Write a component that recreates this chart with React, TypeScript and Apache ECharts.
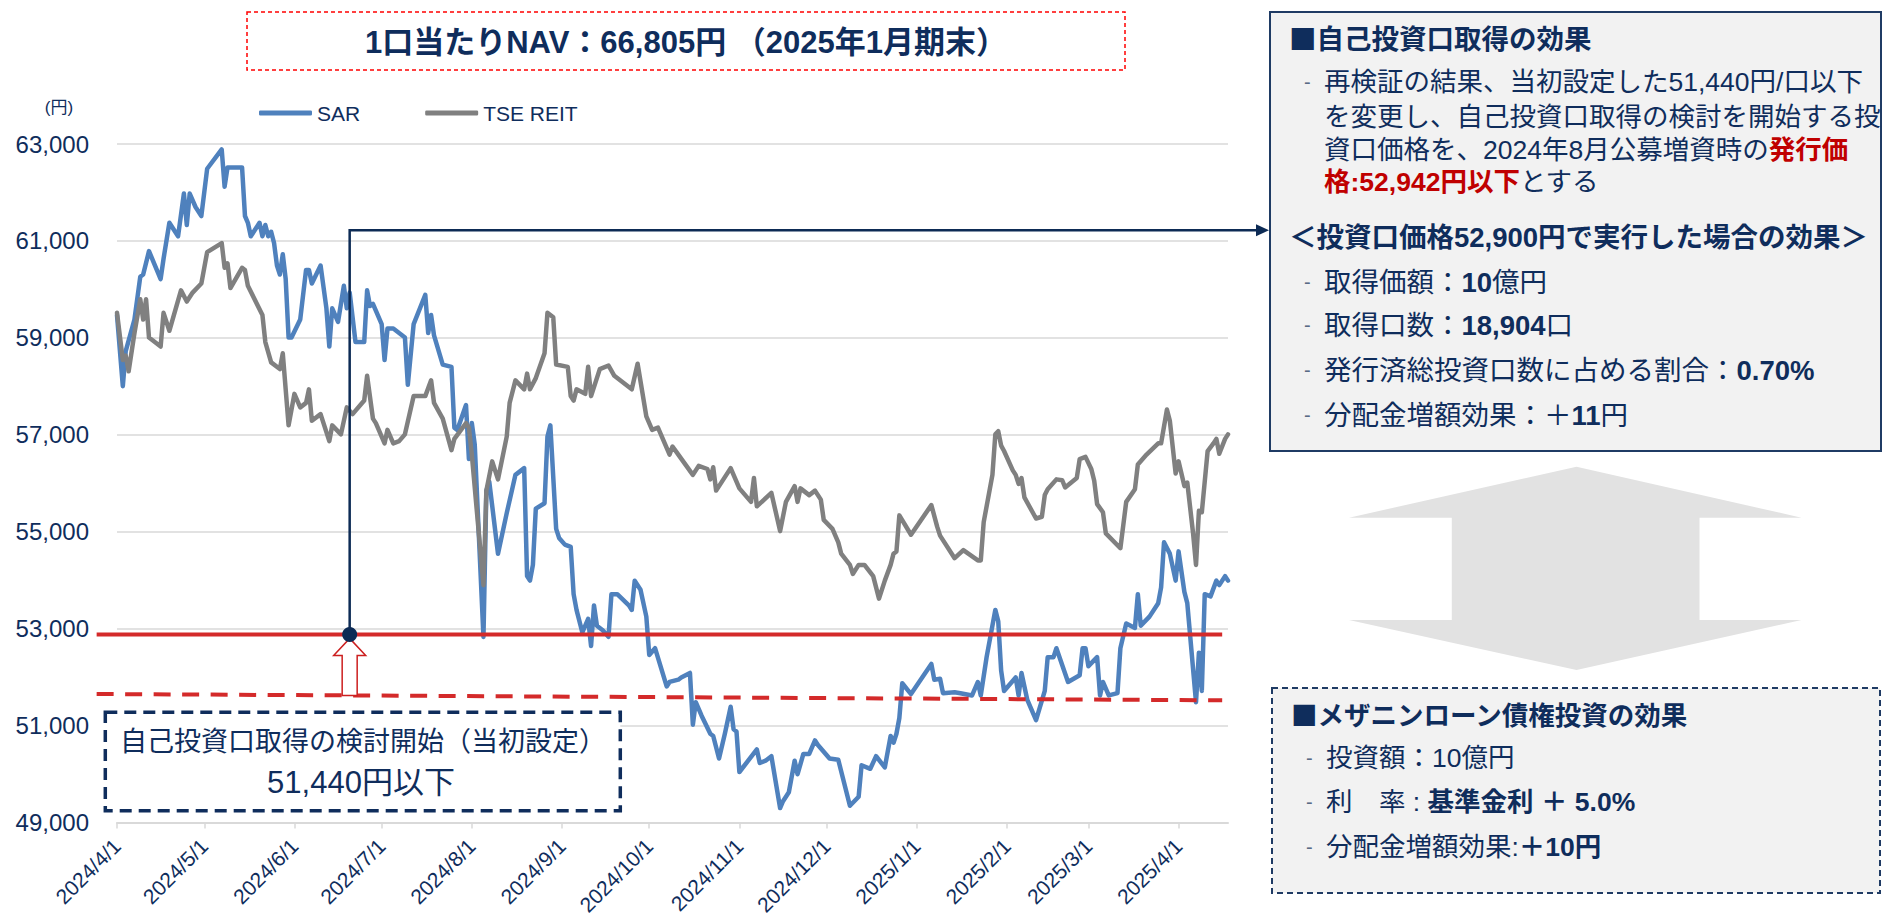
import React, { useEffect, useRef } from 'react';
import * as echarts from 'echarts';

const FONT = "'Liberation Sans', Arial, 'Noto Sans CJK JP', sans-serif";
const CJK_FONT = "'Noto Sans CJK JP', 'Liberation Sans', sans-serif";
const NAVY = '#0f2d5c';
const BLUE = '#4f81bd';
const GRAY = '#808080';
const RED = '#d42a2a';
const RED_TEXT = '#c00000';

// SAR unit price (円)
const sarDates = [
  '2024-04-01','2024-04-03','2024-04-04','2024-04-07','2024-04-09','2024-04-10','2024-04-12','2024-04-16','2024-04-17','2024-04-19',
  '2024-04-22','2024-04-24','2024-04-25','2024-04-26','2024-04-28','2024-04-30','2024-05-02','2024-05-07','2024-05-08','2024-05-09',
  '2024-05-14','2024-05-15','2024-05-16','2024-05-17','2024-05-20','2024-05-21','2024-05-22','2024-05-23','2024-05-24','2024-05-25',
  '2024-05-26','2024-05-27','2024-05-28','2024-05-29','2024-05-30','2024-05-31','2024-06-03','2024-06-05','2024-06-06','2024-06-07',
  '2024-06-10','2024-06-12','2024-06-13','2024-06-14','2024-06-16','2024-06-18','2024-06-19','2024-06-20','2024-06-22','2024-06-25',
  '2024-06-26','2024-06-27','2024-06-28','2024-06-29','2024-07-01','2024-07-02','2024-07-03','2024-07-05','2024-07-07','2024-07-09',
  '2024-07-10','2024-07-12','2024-07-16','2024-07-17','2024-07-18','2024-07-19','2024-07-22','2024-07-25','2024-07-26','2024-07-27',
  '2024-07-30','2024-07-31','2024-08-01','2024-08-02','2024-08-05','2024-08-06','2024-08-07','2024-08-10','2024-08-13','2024-08-16',
  '2024-08-19','2024-08-20','2024-08-21','2024-08-22','2024-08-23','2024-08-26','2024-08-27','2024-08-28','2024-08-30','2024-08-31',
  '2024-09-02','2024-09-04','2024-09-05','2024-09-06','2024-09-08','2024-09-10','2024-09-11','2024-09-12','2024-09-13','2024-09-15',
  '2024-09-17','2024-09-18','2024-09-20','2024-09-24','2024-09-25','2024-09-26','2024-09-28','2024-09-30','2024-10-01','2024-10-03',
  '2024-10-07','2024-10-08','2024-10-11','2024-10-12','2024-10-15','2024-10-16','2024-10-17','2024-10-19','2024-10-22','2024-10-23',
  '2024-10-25','2024-10-27','2024-10-29','2024-10-30','2024-10-31','2024-11-01','2024-11-07','2024-11-08','2024-11-10','2024-11-12',
  '2024-11-15','2024-11-16','2024-11-18','2024-11-20','2024-11-21','2024-11-23','2024-11-25','2024-11-27','2024-11-28','2024-12-02',
  '2024-12-05','2024-12-09','2024-12-12','2024-12-13','2024-12-16','2024-12-18','2024-12-21','2024-12-23','2024-12-24','2024-12-25',
  '2024-12-26','2024-12-27','2024-12-30','2025-01-06','2025-01-07','2025-01-09','2025-01-10','2025-01-14','2025-01-16','2025-01-20',
  '2025-01-22','2025-01-23','2025-01-25','2025-01-28','2025-01-29','2025-01-30','2025-01-31','2025-02-04','2025-02-05','2025-02-06',
  '2025-02-08','2025-02-11','2025-02-14','2025-02-15','2025-02-17','2025-02-18','2025-02-22','2025-02-26','2025-02-27','2025-02-28',
  '2025-03-01','2025-03-04','2025-03-05','2025-03-06','2025-03-08','2025-03-11','2025-03-12','2025-03-14','2025-03-17','2025-03-18',
  '2025-03-19','2025-03-22','2025-03-25','2025-03-26','2025-03-27','2025-03-29','2025-03-31','2025-04-01','2025-04-03','2025-04-04',
  '2025-04-07','2025-04-08','2025-04-09','2025-04-10','2025-04-12','2025-04-14','2025-04-15','2025-04-17','2025-04-18',
];
const sarValues = [
  59470, 58002, 58727, 59377, 60260, 60306, 60789, 60213, 60630, 61374,
  61096, 61978, 61328, 61978, 61700, 61514, 62489, 62888, 62117, 62517,
  62517, 61514, 61374, 61095, 61374, 61095, 61328, 61095, 61189, 60956,
  60492, 60306, 60724, 60213, 59005, 59005, 59377, 60399, 60399, 60120,
  60492, 59609, 58820, 59609, 59330, 60074, 59609, 59934, 58912, 58912,
  59981, 59655, 59702, 59563, 59284, 58541, 59191, 59191, 59100, 59005,
  58030, 59284, 59888, 59098, 59470, 59052, 58448, 58401, 57147, 57100,
  57612, 56497, 57240, 56800, 52828, 55847, 56032, 54546, 55382, 56172,
  56311, 54082, 53989, 54314, 55475, 55586, 56963, 57194, 55057, 54871,
  54732, 54685, 53710, 53385, 52920, 53199, 52642, 53478, 53060, 52967,
  52828, 53710, 53710, 53478, 53385, 53989, 53803, 53246, 52456, 52595,
  51806, 51899, 51945, 51991, 52084, 51016, 51480, 51202, 50830, 50784,
  50319, 50830, 51388, 50923, 50877, 50040, 50505, 50227, 50273, 50366,
  49297, 49437, 49622, 50273, 49994, 50412, 50412, 50691, 50598, 50319,
  50291, 49344, 49529, 50180, 50106, 50366, 50134, 50784, 50644, 50830,
  51155, 51871, 51648, 52270, 51945, 51964, 51667, 51685, 51666, 51620,
  51898, 51620, 52410, 53385, 53152, 52131, 51713, 51991, 51620, 52084,
  51527, 51109, 51713, 52410, 52410, 52595, 51898, 52038, 52595, 52595,
  52224, 52410, 51620, 51898, 51620, 51667, 52595, 53106, 53013, 53710,
  53060, 53246, 53524, 53850, 54779, 54547, 53989, 54593, 53757, 53524,
  51480, 52502, 51713, 53710, 53664, 53989, 53896, 54082, 53989,
];

// 東証REIT指数（SAR価格換算）
const reitDates = [
  '2024-04-01','2024-04-03','2024-04-04','2024-04-05','2024-04-07','2024-04-09','2024-04-10','2024-04-11','2024-04-12','2024-04-16',
  '2024-04-17','2024-04-19','2024-04-23','2024-04-25','2024-04-27','2024-04-30','2024-05-02','2024-05-07','2024-05-08','2024-05-09',
  '2024-05-10','2024-05-14','2024-05-15','2024-05-16','2024-05-21','2024-05-22','2024-05-24','2024-05-27','2024-05-28','2024-05-30',
  '2024-06-01','2024-06-03','2024-06-05','2024-06-06','2024-06-07','2024-06-10','2024-06-12','2024-06-13','2024-06-14','2024-06-17',
  '2024-06-19','2024-06-21','2024-06-25','2024-06-26','2024-06-28','2024-06-29','2024-07-02','2024-07-03','2024-07-05','2024-07-07',
  '2024-07-09','2024-07-12','2024-07-16','2024-07-18','2024-07-19','2024-07-22','2024-07-25','2024-07-26','2024-07-30','2024-07-31',
  '2024-08-01','2024-08-05','2024-08-06','2024-08-08','2024-08-10','2024-08-13','2024-08-14','2024-08-16','2024-08-19','2024-08-20',
  '2024-08-21','2024-08-23','2024-08-26','2024-08-27','2024-08-29','2024-08-30','2024-09-03','2024-09-04','2024-09-05','2024-09-06',
  '2024-09-09','2024-09-10','2024-09-11','2024-09-14','2024-09-17','2024-09-19','2024-09-25','2024-09-27','2024-09-30','2024-10-02',
  '2024-10-04','2024-10-08','2024-10-09','2024-10-11','2024-10-16','2024-10-18','2024-10-21','2024-10-22','2024-10-23','2024-10-24',
  '2024-10-29','2024-11-01','2024-11-05','2024-11-06','2024-11-07','2024-11-12','2024-11-15','2024-11-17','2024-11-20','2024-11-21',
  '2024-11-22','2024-11-25','2024-11-27','2024-11-29','2024-11-30','2024-12-03','2024-12-05','2024-12-06','2024-12-09','2024-12-10',
  '2024-12-12','2024-12-14','2024-12-17','2024-12-18','2024-12-19','2024-12-21','2024-12-23','2024-12-24','2024-12-25','2024-12-26',
  '2024-12-30','2025-01-06','2025-01-08','2025-01-09','2025-01-14','2025-01-17','2025-01-22','2025-01-23','2025-01-24','2025-01-27',
  '2025-01-28','2025-01-29','2025-01-30','2025-01-31','2025-02-03','2025-02-04','2025-02-05','2025-02-06','2025-02-07','2025-02-11',
  '2025-02-13','2025-02-14','2025-02-15','2025-02-18','2025-02-20','2025-02-21','2025-02-25','2025-02-26','2025-02-28','2025-03-02',
  '2025-03-03','2025-03-04','2025-03-06','2025-03-07','2025-03-12','2025-03-14','2025-03-17','2025-03-18','2025-03-21','2025-03-25',
  '2025-03-26','2025-03-28','2025-03-29','2025-03-31','2025-04-01','2025-04-03','2025-04-04','2025-04-06','2025-04-07','2025-04-08',
  '2025-04-09','2025-04-11','2025-04-13','2025-04-14','2025-04-15','2025-04-17','2025-04-18',
];
const reitValues = [
  59516, 58541, 58634, 58309, 59098, 59795, 59377, 59795, 59005, 58820,
  59516, 59145, 59981, 59749, 59934, 60120, 60770, 60956, 60445, 60538,
  60027, 60445, 60399, 60074, 59470, 58912, 58494, 58355, 58680, 57194,
  57844, 57565, 57658, 57937, 57287, 57426, 57054, 56868, 57194, 57008,
  57565, 57426, 57705, 58216, 57333, 57240, 56822, 57101, 56822, 56868,
  57008, 57797, 57797, 58123, 57658, 57333, 56683, 56915, 57240, 57147,
  56590, 53896, 55847, 56451, 56079, 56962, 57658, 58123, 57937, 58262,
  57937, 58169, 58680, 59516, 59423, 58448, 58401, 57797, 57705, 57937,
  57844, 58401, 57797, 58355, 58429, 58216, 57937, 58466, 57380, 57101,
  57147, 56590, 56757, 56590, 56172, 56358, 56293, 56079, 56330, 55847,
  56311, 55893, 55615, 56107, 55522, 55800, 55011, 55615, 55940, 55615,
  55893, 55754, 55847, 55661, 55243, 55057, 54779, 54546, 54314, 54128,
  54314, 54314, 54082, 53849, 53617, 53989, 54314, 54546, 54593, 55336,
  54936, 55549, 55103, 54918, 54453, 54620, 54407, 54407, 55196, 56172,
  57008, 57073, 56776, 56664, 56265, 56172, 55986, 56107, 55707, 55271,
  55308, 55754, 55874, 56079, 56061, 55912, 56107, 56497, 56543, 56293,
  56051, 55568, 55401, 54964, 54658, 55614, 55874, 56386, 56590, 56822,
  56822, 57519, 57287, 56200, 56451, 55940, 56014, 54964, 54314, 55429,
  55401, 56664, 56822, 56915, 56608, 56915, 57008,
];

const monthTicks = [
  '2024-04-01','2024-05-01','2024-06-01','2024-07-01','2024-08-01','2024-09-01','2024-10-01',
  '2024-11-01','2024-12-01','2025-01-01','2025-02-01','2025-03-01','2025-04-01',
];

// annotation levels (円)
const issuePriceLevel = 52880;      // 発行価格ライン
const initialLevelStart = 51650;    // 当初設定ライン（左端）
const initialLevelEnd = 51520;      // 当初設定ライン（右端）
const eventDate = '2024-06-20';
const connectorLevel = 61220;
const refLineFrom = '2024-03-25';
const refLineTo = '2025-04-16';

function ts(s: string): number {
  const [y, m, d] = s.split('-').map(Number);
  return new Date(y, m - 1, d).getTime();
}

function richSet(size: number): any {
  return {
    n: { fontSize: size, fontFamily: FONT, fill: NAVY },
    b: { fontSize: size, fontFamily: FONT, fontWeight: 'bold', fill: NAVY },
    h: { fontSize: size, fontFamily: CJK_FONT, fontWeight: 'bold', fill: NAVY },
    r: { fontSize: size, fontFamily: FONT, fontWeight: 'bold', fill: RED_TEXT },
  };
}

function rtext(x: number, y: number, text: string, size: number): any {
  return {
    type: 'text', x, y, z: 120,
    style: { text, rich: richSet(size), fontSize: size, fontFamily: FONT, fill: NAVY, align: 'left', verticalAlign: 'middle' },
  };
}
function dash(x: number, y: number): any {
  return {
    type: 'text', x, y, z: 120,
    style: { text: '-', fontSize: 20, fontFamily: FONT, fill: '#5a6b85', align: 'left', verticalAlign: 'middle' },
  };
}

export default function App() {
  const ref = useRef<HTMLDivElement>(null);

  useEffect(() => {
    const chart = echarts.init(ref.current!, null, { renderer: 'svg' });
    const tickTs = monthTicks.map(ts);
    chart.setOption({
      animation: false,
      backgroundColor: '#ffffff',
      textStyle: { fontFamily: FONT },
      legend: {
        left: 259, top: 102.5, padding: 0, itemWidth: 53, itemHeight: 5, itemGap: 65, icon: 'roundRect',
        textStyle: { color: NAVY, fontSize: 21, fontFamily: FONT },
        data: ['SAR', 'TSE REIT'],
      },
      grid: { left: 117, top: 144, width: 1111, height: 682.7 },
      xAxis: {
        type: 'value',
        min: ts('2024-04-01'),
        max: ts('2025-04-18'),
        axisLine: { lineStyle: { color: '#d9d9d9', width: 2 } },
        axisTick: { show: true, length: 6, customValues: tickTs, lineStyle: { color: '#d9d9d9', width: 1.5 } },
        axisLabel: {
          customValues: tickTs, rotate: 45, margin: 20, color: NAVY, fontSize: 21, fontFamily: FONT,
          formatter: (v: number) => { const d = new Date(v); return `${d.getFullYear()}/${d.getMonth() + 1}/${d.getDate()}`; },
        },
        splitLine: { show: false },
      },
      yAxis: {
        type: 'value', min: 49000, max: 63000, interval: 2000,
        axisLine: { show: false }, axisTick: { show: false },
        axisLabel: { margin: 28, color: NAVY, fontSize: 24, fontFamily: FONT, formatter: (v: number) => v.toLocaleString('en-US') },
        splitLine: { lineStyle: { color: '#d9d9d9', width: 1.5 } },
      },
      series: [
        {
          name: 'SAR', type: 'line', symbol: 'none', silent: true,
          data: sarDates.map((d, i) => [ts(d), sarValues[i]]),
          lineStyle: { color: BLUE, width: 4.5, join: 'round', cap: 'round' },
          itemStyle: { color: BLUE },
        },
        {
          name: 'TSE REIT', type: 'line', symbol: 'none', silent: true,
          data: reitDates.map((d, i) => [ts(d), reitValues[i]]),
          lineStyle: { color: GRAY, width: 4.5, join: 'round', cap: 'round' },
          itemStyle: { color: GRAY },
        },
      ],
    });

    const P = (d: string, v: number) => chart.convertToPixel({ gridIndex: 0 }, [ts(d), v]) as number[];
    const [xL, yRed] = P(refLineFrom, issuePriceLevel);
    const [xR] = P(refLineTo, issuePriceLevel);
    const [, yDL] = P(refLineFrom, initialLevelStart);
    const [, yDR] = P(refLineTo, initialLevelEnd);
    const [ex, ey] = P(eventDate, issuePriceLevel);
    const [, cy] = P(eventDate, connectorLevel);
    const yDashAtEvent = yDL + ((ex - xL) / (xR - xL)) * (yDR - yDL);
    const arrowEndX = 1269;

    const graphic: any[] = [
      // title box
      { type: 'rect', z: 100, shape: { x: 247, y: 12, width: 878, height: 58 },
        style: { fill: '#ffffff', stroke: '#ff0000', lineWidth: 1.5, lineDash: [4, 3] } },
      { type: 'text', z: 110, x: 686, y: 42,
        style: { text: '1口当たりNAV：66,805円 （2025年1月期末）', fontSize: 31, fontWeight: 'bold', fontFamily: FONT, fill: NAVY, align: 'center', verticalAlign: 'middle' } },
      // unit label
      { type: 'text', z: 110, x: 59, y: 107,
        style: { text: '(円)', fontSize: 17, fontFamily: FONT, fill: NAVY, align: 'center', verticalAlign: 'middle' } },
      // red reference lines
      { type: 'line', z: 100, shape: { x1: xL, y1: yRed, x2: xR, y2: yRed }, style: { stroke: RED, lineWidth: 4 } },
      { type: 'line', z: 100, shape: { x1: xL, y1: yDL, x2: xR, y2: yDR }, style: { stroke: RED, lineWidth: 4, lineDash: [17, 11.5] } },
      // connector to right box
      { type: 'polyline', z: 105, shape: { points: [[ex, ey], [ex, cy], [arrowEndX - 11, cy]] },
        style: { stroke: '#0d2b55', lineWidth: 2.5, fill: null } },
      { type: 'polygon', z: 105, shape: { points: [[arrowEndX - 13, cy - 6], [arrowEndX, cy], [arrowEndX - 13, cy + 6]] },
        style: { fill: '#0d2b55' } },
      { type: 'circle', z: 106, shape: { cx: ex, cy: ey, r: 7.5 }, style: { fill: '#0d2b55' } },
      // hollow red up arrow
      { type: 'polygon', z: 104,
        shape: { points: [[ex, ey + 4], [ex + 16, ey + 21], [ex + 7.5, ey + 21], [ex + 7.5, yDashAtEvent], [ex - 7.5, yDashAtEvent], [ex - 7.5, ey + 21], [ex - 16, ey + 21]] },
        style: { fill: '#ffffff', stroke: '#cc1f1f', lineWidth: 1.5 } },
      // initial setting annotation box
      { type: 'rect', z: 100, shape: { x: 105.3, y: 712.3, width: 515, height: 98.4 },
        style: { fill: '#ffffff', stroke: '#0f2d5c', lineWidth: 3.5, lineDash: [12, 7] } },
      { type: 'text', z: 110, x: 363, y: 742,
        style: { text: '自己投資口取得の検討開始（当初設定）', fontSize: 27, fontFamily: FONT, fill: NAVY, align: 'center', verticalAlign: 'middle' } },
      { type: 'text', z: 110, x: 361, y: 782,
        style: { text: '51,440円以下', fontSize: 31, fontFamily: FONT, fill: NAVY, align: 'center', verticalAlign: 'middle' } },
      // right upper box
      { type: 'rect', z: 100, shape: { x: 1270, y: 12, width: 611, height: 439 },
        style: { fill: '#f2f2f2', stroke: '#1f3b64', lineWidth: 2 } },
      rtext(1289, 37, '{h|■自己投資口取得の効果}', 27.5),
      dash(1304, 82),
      rtext(1324, 82, '{n|再検証の結果、当初設定した51,440円/口以下}', 26.5),
      rtext(1324, 117, '{n|を変更し、自己投資口取得の検討を開始する投}', 26.5),
      rtext(1324, 150, '{n|資口価格を、2024年8月公募増資時の}{r|発行価}', 26.5),
      rtext(1324, 182, '{r|格:52,942円以下}{n|とする}', 26.5),
      rtext(1289, 237, '{b|＜投資口価格52,900円で実行した場合の効果＞}', 27.5),
      dash(1304, 282), rtext(1324, 282, '{n|取得価額：}{b|10}{n|億円}', 27.5),
      dash(1304, 325), rtext(1324, 325, '{n|取得口数：}{b|18,904}{n|口}', 27.5),
      dash(1304, 370), rtext(1324, 370, '{n|発行済総投資口数に占める割合：}{b|0.70%}', 27.5),
      dash(1304, 415), rtext(1324, 415, '{n|分配金増額効果：＋}{b|11}{n|円}', 27.5),
      // double arrow
      { type: 'polygon', z: 100,
        shape: { points: [[1576.5, 466.7], [1801.5, 517.7], [1699.5, 517.7], [1699.5, 620], [1801.5, 620], [1576.5, 670], [1349, 620], [1451.8, 620], [1451.8, 517.7], [1349, 517.7]] },
        style: { fill: '#e2e2e2' } },
      // right lower box
      { type: 'rect', z: 100, shape: { x: 1272, y: 688, width: 608, height: 205 },
        style: { fill: '#f2f2f2', stroke: '#1f3b64', lineWidth: 2, lineDash: [6, 4] } },
      rtext(1291, 713, '{h|■メザニンローン債権投資の効果}', 26.5),
      dash(1306, 758), rtext(1326, 758, '{n|投資額：10億円}', 26.5),
      dash(1306, 802), rtext(1326, 802, '{n|利　率 : }{b|基準金利 ＋ 5.0%}', 26.5),
      dash(1306, 847), rtext(1326, 847, '{n|分配金増額効果:}{b|＋10円}', 26.5),
    ];
    chart.setOption({ graphic });

    return () => chart.dispose();
  }, []);

  return <div ref={ref} style={{ position: 'absolute', left: 0, top: 0, width: 1885, height: 918 }} />;
}
